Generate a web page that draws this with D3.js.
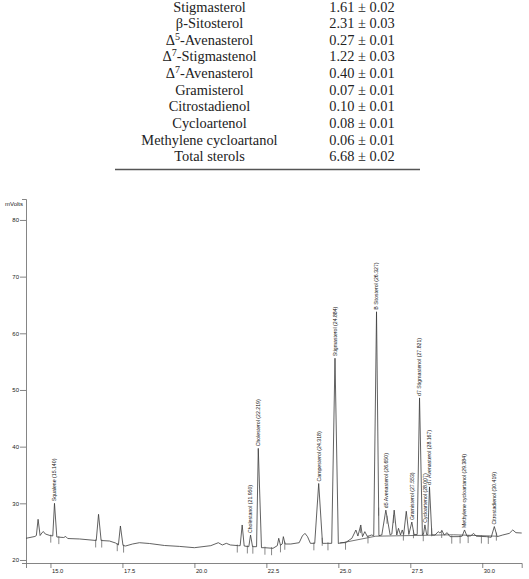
<!DOCTYPE html>
<html>
<head>
<meta charset="utf-8">
<script src="https://cdn.jsdelivr.net/npm/d3@7"></script>
<style>
html,body{margin:0;padding:0;background:#fff;}
svg{display:block;}
</style>
</head>
<body>
<svg id="chart" width="529" height="579"></svg>
<script>
// ---------- Table data ----------
const compoundNames = ["Stigmasterol","β-Sitosterol","Δ{5}-Avenasterol","Δ{7}-Stigmastenol","Δ{7}-Avenasterol","Gramisterol","Citrostadienol","Cycloartenol","Methylene cycloartanol","Total sterols"];
const compoundMeans = [1.61,2.31,0.27,1.22,0.40,0.07,0.10,0.08,0.06,6.68];
const compoundSDs   = [0.02,0.03,0.01,0.03,0.01,0.01,0.01,0.01,0.01,0.02];

// ---------- Chromatogram data ----------
const yTicks = [20,30,40,50,60,70,80];
const xTicks = [15.0,17.5,20.0,22.5,25.0,27.5,30.0];
const xDomain = [14.15, 31.37];
const yDomain = [19.47, 83.7];

const peakNames   = ["Squalene (15.140)","Cholestanol (21.950)","Cholesterol (22.219)","Campesterol (24.318)","Stigmasterol (24.884)","B Sitosterol (26.327)","d5 Avenasterol (26.650)","Gramisterol (27.553)","d7 Stigmastenol (27.821)","Cycloartenol (28.007)","d7 Avenasterol (28.167)","Methylene cycloartanol (29.384)","Citrostadienol (30.419)"];
const peakTimes   = [15.14,21.95,22.219,24.318,24.884,26.327,26.65,27.553,27.821,28.007,28.167,29.384,30.419];
const peakHeights = [30.0,24.4,39.7,33.5,55.6,63.8,28.8,26.7,48.6,26.2,32.9,25.3,25.9];

// detector trace (retention time, mVolts) between labelled apexes
const tracePoints = [
[14.15,23.83],[14.46,24.15],[14.51,24.32],[14.57,27.18],[14.64,24.32],[14.70,24.76],[14.75,25.03],[14.82,24.59],[14.98,24.32],[15.08,24.24],
[15.22,24.06],[15.46,23.97],[15.53,24.15],[15.60,23.79],[16.01,23.71],[16.59,23.44],[16.67,28.06],[16.76,23.44],[17.05,23.35],[17.26,23.0],
[17.36,22.65],[17.43,26.0],[17.52,22.56],[17.61,22.47],[17.85,22.82],[18.09,23.05],[18.44,22.91],[18.96,22.56],[19.48,22.4],
[20.0,22.17],[20.57,22.53],[20.83,23.05],[20.97,22.65],[21.11,22.94],[21.25,22.65],[21.53,22.53],[21.59,22.53],[21.66,26.18],[21.73,22.47],[21.89,22.35],
[22.02,22.35],[22.16,22.35],
[22.33,22.17],[22.44,22.17],[22.73,22.06],[22.88,22.53],[22.93,23.83],[22.99,22.59],[23.05,22.82],[23.09,24.12],[23.15,22.82],[23.35,22.82],
[23.64,23.05],[23.75,24.24],[23.84,24.7],[23.93,24.12],[24.03,22.94],[24.18,22.94],
[24.45,22.94],[24.60,22.94],[24.77,22.94],
[25.0,22.9],[25.08,23.05],[25.25,23.05],[25.38,23.53],[25.47,23.82],[25.61,25.29],[25.68,24.23],[25.78,26.18],[25.84,24.12],[25.92,25.0],
[26.01,24.12],[26.15,24.41],[26.23,24.3],
[26.41,24.3],[26.51,24.41],
[26.80,24.41],[26.86,24.6],[26.94,28.8],[27.03,24.41],[27.09,25.59],[27.16,24.41],[27.22,25.3],[27.27,24.5],[27.36,28.6],[27.45,24.5],
[27.63,24.5],[27.74,24.5],
[27.92,24.4],[27.96,24.6],
[28.07,24.45],[28.11,24.5],
[28.25,24.4],[28.36,24.41],[28.47,25.0],[28.53,24.76],[28.60,25.18],[28.68,24.41],[28.78,24.82],[28.88,24.12],[29.16,24.12],[29.30,24.2],
[29.47,24.2],[29.60,24.26],[29.70,24.7],[29.79,24.2],[30.14,24.12],[30.31,24.0],
[30.52,24.12],[30.71,24.41],[30.94,24.7],[31.06,25.3],[31.17,24.82],[31.37,24.76]
];

// drawn integration baseline (time, mVolts)
const integrationBaseline = [[25.05,22.95],[26.3,24.2],[29.0,24.45],[30.5,24.2]];

// integration event marks (retention time)
const eventMarks = [15.01,15.29,16.57,16.78,17.32,17.54,21.49,21.84,22.03,22.45,22.68,22.99,23.14,24.15,24.44,24.64,25.25,25.77,26.03,26.40,26.69,26.92,27.26,27.61,27.95,28.24,28.59,28.94,29.23,29.51,29.97,30.21,30.49];

// ---------- Drawing ----------
const svg = d3.select("#chart");
const ink = "#3a3a3a";

// Table
const table = svg.append("g");
const rowY = d3.scaleLinear().domain([0, compoundNames.length - 1]).range([11.6, 161.2]);
const fmt = d3.format(".2f");
const serif = "'Liberation Serif', 'DejaVu Serif', serif";
compoundNames.forEach((name, i) => {
  const t = table.append("text")
    .attr("x", 209.5).attr("y", rowY(i))
    .attr("text-anchor", "middle")
    .style("font-family", serif)
    .style("font-size", "14.4px")
    .style("fill", "#222");
  const parts = name.split(/\{(\d)\}/);
  parts.forEach((p, k) => {
    if (k % 2 === 1) {
      t.append("tspan").text(p).attr("dy", "-5").style("font-size", "10px");
    } else if (p.length) {
      const s = t.append("tspan").text(p);
      if (k > 0) s.attr("dy", "5");
    }
  });
  table.append("text")
    .attr("x", 362).attr("y", rowY(i))
    .attr("text-anchor", "middle")
    .style("font-family", serif)
    .style("font-size", "14.4px")
    .style("fill", "#222")
    .text(fmt(compoundMeans[i]) + " ± " + fmt(compoundSDs[i]));
});
table.append("line")
  .attr("x1", 115).attr("x2", 420).attr("y1", 169.5).attr("y2", 169.5)
  .attr("stroke", "#555").attr("stroke-width", 1.6);

// Chart scales
const x = d3.scaleLinear().domain(xDomain).range([26, 521.7]);
const y = d3.scaleLinear().domain(yDomain).range([563, 199]);

// Axes
const sans = "'Liberation Sans', Arial, sans-serif";
const gY = svg.append("g").attr("transform", "translate(26,0)")
  .call(d3.axisLeft(y).tickValues(yTicks).tickSize(6).tickSizeOuter(4).tickFormat(d3.format("d")));
gY.selectAll("text").attr("x", -7).style("font-family", sans).style("font-size", "6px").style("fill", "#222");
const gX = svg.append("g").attr("transform", "translate(0,563)")
  .call(d3.axisBottom(x).tickValues(xTicks).tickSize(5).tickSizeOuter(5).tickFormat(d3.format(".1f")));
gX.selectAll("text").attr("y", 6).attr("dx", 1).attr("text-anchor", "start")
  .style("font-family", sans).style("font-size", "5.8px").style("fill", "#222");
svg.selectAll(".domain, .tick line").attr("stroke", "#666").attr("stroke-width", 0.8);

svg.append("text").attr("x", 23).attr("y", 206).attr("text-anchor", "end")
  .style("font-family", sans).style("font-size", "6px").style("fill", "#222")
  .text("mVolts");

// Trace: merge labelled apexes with trace points
const fullTrace = tracePoints.concat(peakTimes.map((t, i) => [t, peakHeights[i]]))
  .sort((a, b) => a[0] - b[0]);
const line = d3.line().x(d => x(d[0])).y(d => y(d[1]));
svg.append("path").datum(fullTrace).attr("d", line)
  .attr("fill", "none").attr("stroke", ink).attr("stroke-width", 0.8).attr("stroke-linejoin", "round");

svg.append("path").datum(integrationBaseline).attr("d", line)
  .attr("fill", "none").attr("stroke", ink).attr("stroke-width", 0.7);

// event marks
const bis = d3.bisector(d => d[0]).left;
function traceAt(t) {
  const i = Math.max(1, Math.min(fullTrace.length - 1, bis(fullTrace, t)));
  const a = fullTrace[i - 1], b = fullTrace[i];
  const f = (t - a[0]) / (b[0] - a[0]);
  return a[1] + f * (b[1] - a[1]);
}
svg.append("g").selectAll("line").data(eventMarks).join("line")
  .attr("x1", d => x(d)).attr("x2", d => x(d))
  .attr("y1", d => y(traceAt(d)) - 1)
  .attr("y2", d => y(traceAt(d)) + 7)
  .attr("stroke", "#555").attr("stroke-width", 0.7);

// peak labels
svg.append("g").selectAll("text").data(peakNames).join("text")
  .attr("transform", (d, i) => `translate(${x(peakTimes[i])},${y(peakHeights[i]) - 2}) rotate(-90)`)
  .attr("dy", "0.35em")
  .attr("text-anchor", "start")
  .style("font-family", sans)
  .style("font-size", "5.2px")
  .style("fill", "#111")
  .text(d => d);
</script>
</body>
</html>
